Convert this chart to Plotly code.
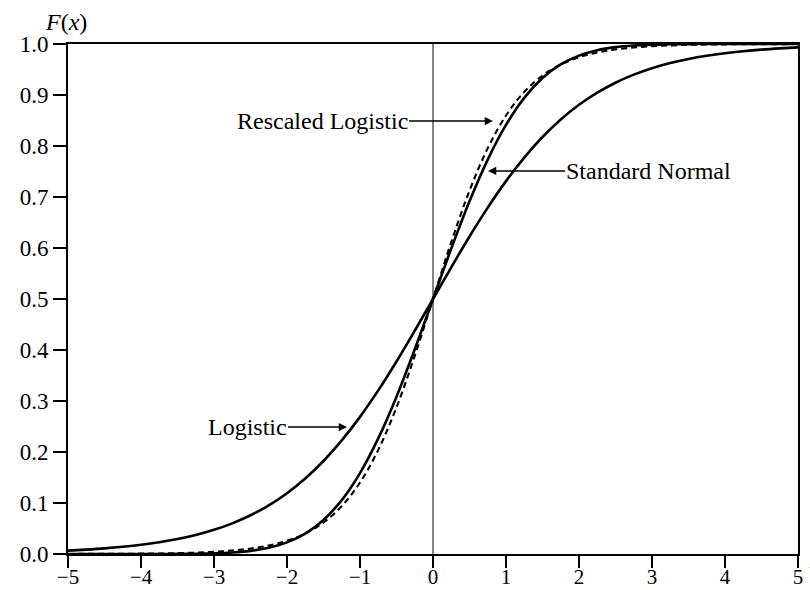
import plotly.graph_objects as go

# x grid (step 0.25)
x_vals = [-5.0, -4.75, -4.5, -4.25, -4.0, -3.75, -3.5, -3.25, -3.0, -2.75, -2.5, -2.25,
          -2.0, -1.75, -1.5, -1.25, -1.0, -0.75, -0.5, -0.25, 0.0, 0.25, 0.5, 0.75,
          1.0, 1.25, 1.5, 1.75, 2.0, 2.25, 2.5, 2.75, 3.0, 3.25, 3.5, 3.75, 4.0,
          4.25, 4.5, 4.75, 5.0]

logistic = [0.0067, 0.0086, 0.0110, 0.0141, 0.0180, 0.0230, 0.0293, 0.0373, 0.0474,
            0.0601, 0.0759, 0.0953, 0.1192, 0.1480, 0.1824, 0.2227, 0.2689, 0.3208,
            0.3775, 0.4378, 0.5, 0.5622, 0.6225, 0.6792, 0.7311, 0.7773, 0.8176,
            0.8520, 0.8808, 0.9047, 0.9241, 0.9399, 0.9526, 0.9627, 0.9707, 0.9770,
            0.9820, 0.9859, 0.9890, 0.9914, 0.9933]

std_normal = [0.0, 0.0, 0.0, 0.0, 0.0, 0.0001, 0.0002, 0.0006, 0.0013, 0.0030, 0.0062,
              0.0122, 0.0228, 0.0401, 0.0668, 0.1056, 0.1587, 0.2266, 0.3085, 0.4013,
              0.5, 0.5987, 0.6915, 0.7734, 0.8413, 0.8944, 0.9332, 0.9599, 0.9772,
              0.9878, 0.9938, 0.9970, 0.9987, 0.9994, 0.9998, 0.9999, 1.0, 1.0, 1.0,
              1.0, 1.0]

rescaled_logistic = [0.0001, 0.0002, 0.0003, 0.0005, 0.0007, 0.0011, 0.0017, 0.0027,
                     0.0043, 0.0068, 0.0106, 0.0166, 0.0259, 0.0401, 0.0618, 0.0939,
                     0.1402, 0.2042, 0.2876, 0.3885, 0.5, 0.6115, 0.7124, 0.7958,
                     0.8598, 0.9061, 0.9382, 0.9599, 0.9741, 0.9834, 0.9894, 0.9932,
                     0.9957, 0.9973, 0.9983, 0.9989, 0.9993, 0.99955, 0.9997, 0.9998,
                     0.9999]

x_ticks = [-5, -4, -3, -2, -1, 0, 1, 2, 3, 4, 5]
y_ticks = [0.0, 0.1, 0.2, 0.3, 0.4, 0.5, 0.6, 0.7, 0.8, 0.9, 1.0]

FONT = "Liberation Serif"

fig = go.Figure()
fig.add_shape(type="line", x0=0, x1=0, y0=0, y1=1, xref="x", yref="y",
              line=dict(color="#444444", width=1.3), layer="below")
fig.add_trace(go.Scatter(x=x_vals, y=logistic, mode="lines", line_shape="spline",
                         line=dict(color="black", width=2.6), name="Logistic"))
fig.add_trace(go.Scatter(x=x_vals, y=std_normal, mode="lines", line_shape="spline",
                         line=dict(color="black", width=2.6), name="Standard Normal"))
fig.add_trace(go.Scatter(x=x_vals, y=rescaled_logistic, mode="lines", line_shape="spline",
                         line=dict(color="black", width=2.1, dash="6px,4px"),
                         name="Rescaled Logistic"))

ann_font = dict(family=FONT, size=24, color="black")
arrow = dict(showarrow=True, arrowhead=2, arrowsize=1.1, arrowwidth=1.5,
             arrowcolor="black", ay=0, font=ann_font)
fig.add_annotation(x=0.822, y=0.849, text="Rescaled Logistic", ax=-171, **arrow)
fig.add_annotation(x=0.753, y=0.751, text="Standard Normal", ax=161, **arrow)
fig.add_annotation(x=-1.178, y=0.249, text="Logistic", ax=-100, **arrow)

fig.add_annotation(xref="paper", yref="paper", x=0, y=1, yshift=22, xshift=-2,
                   text="<i>F</i>(<i>x</i>)", showarrow=False,
                   xanchor="center", yanchor="middle", font=ann_font)
fig.add_annotation(xref="paper", yref="paper", x=1, y=0, xshift=9, yshift=-6,
                   text="<i>x</i>", showarrow=False,
                   xanchor="left", yanchor="middle", font=ann_font)

fig.update_layout(
    width=810, height=590,
    margin=dict(l=68, r=12, t=44, b=36),
    plot_bgcolor="white", paper_bgcolor="white",
    showlegend=False,
    font=dict(family=FONT, size=22, color="black"),
)
fig.update_xaxes(range=[-5, 5], tickvals=x_ticks, ticks="outside", ticklen=12,
                 tickwidth=2, tickcolor="black", showline=True, linewidth=2,
                 linecolor="black", mirror=True, showgrid=False, zeroline=False,
                 ticklabelstandoff=-9, automargin=False,
                 tickfont=dict(family=FONT, size=21))
fig.update_yaxes(range=[0, 1], tickvals=y_ticks, tickformat=".1f", ticks="outside",
                 ticklen=13, tickwidth=2, tickcolor="black", showline=True,
                 linewidth=2, linecolor="black", mirror=True, showgrid=False,
                 zeroline=False, automargin=False,
                 tickfont=dict(family=FONT, size=23))

fig.write_html("out.html")
